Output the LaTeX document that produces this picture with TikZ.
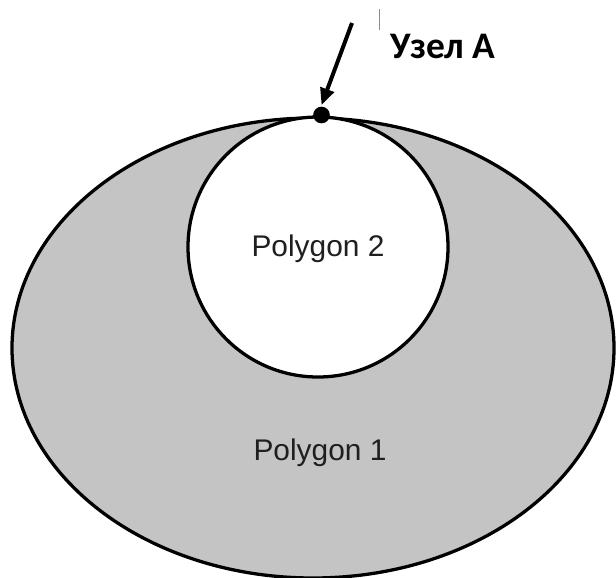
\documentclass[tikz,border=0pt]{standalone}
\usepackage{fontspec}
\setmainfont{Liberation Sans}
\newfontfamily\labelfont{Carlito}
\usepackage{tikz}
\usetikzlibrary{arrows.meta}
\usetikzlibrary{calc}

\begin{document}
\begin{tikzpicture}[x=0.03cm, y=-0.03cm, line width=2.8pt,
        outer_style/.style={draw=black, fill=black!23},
        inner_style/.style={draw=black, fill=white},
        poly_label/.style={font=\fontsize{25.5}{30}\selectfont, text=black!88},
        point_style/.style={circle, fill=black, inner sep=0pt, minimum size=0.5cm},
        pointer_style/.style={draw=black, line width=3.4pt, -{Triangle[length=0.5cm, width=0.42cm]}}]

        \useasboundingbox (0,0) rectangle (616,577);
        \clip (0,0) rectangle (616,577);

        \draw [outer_style] (313,348) ellipse [x radius=301, y radius=230];

        \draw [inner_style] (318,247) circle [radius=130];

        \node [poly_label](p2) at (318,249) {Polygon 2};

        \node [poly_label](p1) at (320,453) {Polygon 1};

        \node [point_style](nA) at (321.5,115) {};

        \coordinate (tail) at (352,23);

        \draw [pointer_style] (tail) -- (nA.north);

        \node [font=\labelfont\bfseries\fontsize{32}{36}\selectfont](lbl) at (443,46) {Узел А};

        \draw [black!45, line width=0.5pt] (379,9) -- (379,30);

\end{tikzpicture}
\end{document}
